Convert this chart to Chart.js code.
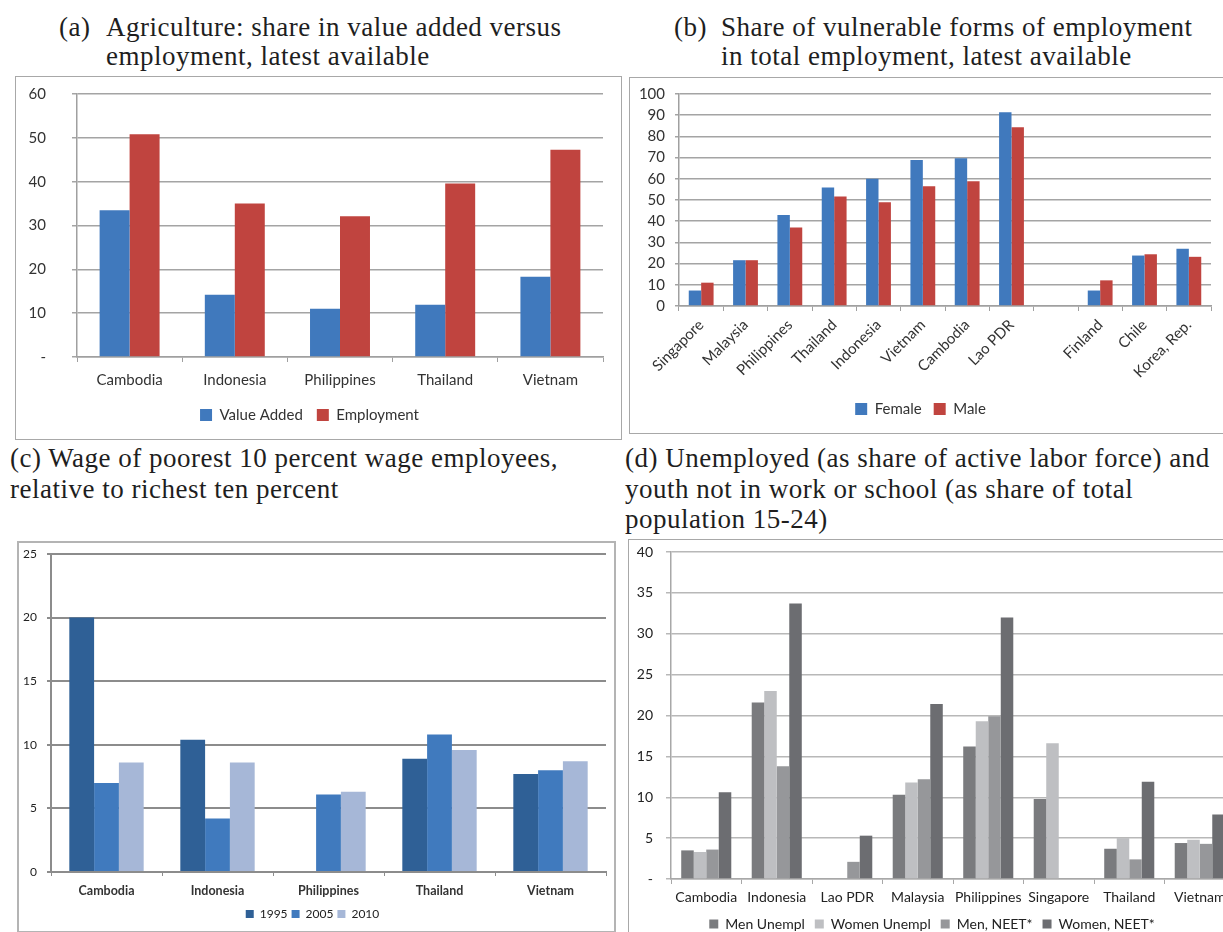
<!DOCTYPE html>
<html><head><meta charset="utf-8">
<script src="https://cdn.jsdelivr.net/npm/chart.js@4.4.0/dist/chart.umd.min.js"></script>
<style>
html,body{margin:0;padding:0;background:#fff;overflow:hidden;width:1223px;height:932px;position:relative;}
.t{position:absolute;font-family:"Liberation Serif",serif;font-size:27px;letter-spacing:0.5px;line-height:29.4px;color:#1e1e1e;white-space:pre;}
.box{position:absolute;border:1px solid #a8a8a8;box-sizing:border-box;background:#fff;}
canvas{position:absolute;}
</style></head><body>
<div class="t" style="left:59px;top:13px;">(a)</div>
<div class="t" style="left:106px;top:13px;">Agriculture: share in value added versus
employment, latest available</div>
<div class="t" style="left:674px;top:13px;">(b)</div>
<div class="t" style="left:721px;top:13px;">Share of vulnerable forms of employment
in total employment, latest available</div>
<div class="t" style="left:10px;top:443px;line-height:30.5px;">(c) Wage of poorest 10 percent wage employees,
relative to richest ten percent</div>
<div class="t" style="left:625px;top:443px;line-height:30.5px;">(d) Unemployed (as share of active labor force) and
youth not in work or school (as share of total
population 15-24)</div>

<div class="box" style="left:15px;top:76px;width:607px;height:364px;"></div>
<div class="box" style="left:629px;top:77px;width:596px;height:357px;"></div>
<div class="box" style="left:17px;top:541px;width:599px;height:392px;border:2px solid #b4b4b4;"></div>
<div class="box" style="left:628px;top:539px;width:700px;height:410px;"></div>

<canvas id="ca" width="605" height="362" style="left:16px;top:77px;"></canvas>
<canvas id="cb" width="592" height="355" style="left:630px;top:78px;"></canvas>
<canvas id="cc" width="596" height="387" style="left:19px;top:543px;"></canvas>
<canvas id="cd" width="618" height="401" style="left:629px;top:540px;"></canvas>

<script>
// ---------- Panel (a) ----------
const catA = ['Cambodia','Indonesia','Philippines','Thailand','Vietnam'];
const valueAdded = [33.5, 14.2, 11.0, 11.9, 18.3];
const employment = [50.8, 35.0, 32.1, 39.6, 47.3];

// ---------- Panel (b) ----------
const catB = ['Singapore','Malaysia','Philippines','Thailand','Indonesia','Vietnam','Cambodia','Lao PDR','','Finland','Chile','Korea, Rep.'];
const female = [7.3, 21.6, 42.9, 55.9, 60.0, 68.9, 69.7, 91.4, null, 7.3, 23.8, 27.0];
const male   = [11.0, 21.6, 37.0, 51.7, 48.9, 56.5, 58.9, 84.3, null, 12.1, 24.4, 23.2];

// ---------- Panel (c) ----------
const catC = ['Cambodia','Indonesia','Philippines','Thailand','Vietnam'];
const y1995 = [20.0, 10.4, null, 8.9, 7.7];
const y2005 = [7.0, 4.2, 6.1, 10.8, 8.0];
const y2010 = [8.6, 8.6, 6.3, 9.6, 8.7];

// ---------- Panel (d) ----------
const catD = ['Cambodia','Indonesia','Lao PDR','Malaysia','Philippines','Singapore','Thailand','Vietnam'];
const menUnempl   = [3.5, 21.6, null, 10.3, 16.2, 9.8, 3.7, 4.4];
const womenUnempl = [3.3, 23.0, null, 11.8, 19.3, 16.6, 5.0, 4.8];
const menNEET     = [3.6, 13.8, 2.1, 12.2, 19.9, null, 2.4, 4.3];
const womenNEET   = [10.6, 33.7, 5.3, 21.4, 32.0, null, 11.9, 7.9];

Chart.defaults.font.family = 'Lato, "Open Sans", sans-serif';
Chart.defaults.color = '#333';
const BLUE = '#4079BD', RED = '#C0443F';

function base(o){
  o.options.responsive = false;
  o.options.animation = false;
  o.options.devicePixelRatio = 1;
  o.options.plugins = o.options.plugins || {};
  o.options.plugins.tooltip = {enabled:false};
  return o;
}
function fixY(w){ return s => { s.width = w; s.paddingTop = 0; s.paddingBottom = 0; }; }

// Panel a
new Chart(document.getElementById('ca'), base({
  type:'bar',
  data:{labels:catA, datasets:[
    {label:'Value Added', data:valueAdded, backgroundColor:BLUE, barPercentage:1, categoryPercentage:0.57},
    {label:'Employment', data:employment, backgroundColor:RED, barPercentage:1, categoryPercentage:0.57}
  ]},
  options:{
    layout:{padding:{left:0,top:17,right:18,bottom:6.5}},
    plugins:{legend:{position:'bottom', labels:{boxWidth:12, boxHeight:12, padding:14, font:{size:15}, color:'#333'}}},
    scales:{
      x:{grid:{drawOnChartArea:false, drawTicks:true, tickLength:5, color:'#a0a0a0', offset:true},
         border:{color:'#a0a0a0', width:1.5},
         ticks:{font:{size:15}, color:'#333', padding:9, maxRotation:0},
         afterFit:s=>{s.height=36.5;}},
      y:{min:0, max:60,
         ticks:{stepSize:10, autoSkip:false, padding:26, font:{size:15}, color:'#333', callback:v=>v===0?'-':v},
         grid:{color:'#a4a4a4', lineWidth:1.5, tickLength:5},
         border:{color:'#a0a0a0', width:1.5},
         afterFit:fixY(61)}
    }
  }
}));

// Panel b
new Chart(document.getElementById('cb'), base({
  type:'bar',
  data:{labels:catB, datasets:[
    {label:'Female', data:female, backgroundColor:BLUE, barPercentage:1, categoryPercentage:0.56},
    {label:'Male', data:male, backgroundColor:RED, barPercentage:1, categoryPercentage:0.56}
  ]},
  options:{
    layout:{padding:{left:0,top:16,right:11,bottom:6.5}},
    plugins:{legend:{position:'bottom', labels:{boxWidth:12, boxHeight:12, padding:12, font:{size:15}, color:'#333'}}},
    scales:{
      x:{grid:{drawOnChartArea:false, drawTicks:true, tickLength:5, color:'#a0a0a0', offset:true},
         border:{color:'#a0a0a0', width:1.5},
         ticks:{font:{size:15}, color:'#333', padding:5, maxRotation:45, minRotation:45, autoSkip:false},
         afterFit:s=>{s.height=83.5;}},
      y:{min:0, max:100, ticks:{stepSize:10, autoSkip:false, padding:10, font:{size:15}, color:'#333'},
         grid:{color:'#a4a4a4', lineWidth:1.5, tickLength:4},
         border:{color:'#a0a0a0', width:1.5},
         afterFit:fixY(49)}
    }
  }
}));

// Panel c
new Chart(document.getElementById('cc'), base({
  type:'bar',
  data:{labels:catC, datasets:[
    {label:'1995', data:y1995, backgroundColor:'#2F6096', barPercentage:1, categoryPercentage:0.67},
    {label:'2005', data:y2005, backgroundColor:'#407ABE', barPercentage:1, categoryPercentage:0.67},
    {label:'2010', data:y2010, backgroundColor:'#A6B7D7', barPercentage:1, categoryPercentage:0.67}
  ]},
  options:{
    layout:{padding:{left:0,top:11,right:9,bottom:0}},
    plugins:{legend:{position:'bottom', labels:{boxWidth:8, boxHeight:8, padding:4, font:{size:12}, color:'#222'}}},
    scales:{
      x:{grid:{drawOnChartArea:false, drawTicks:true, tickLength:4, color:'#8c8c8c', offset:true},
         border:{color:'#8c8c8c', width:2},
         ticks:{font:{size:12.5, weight:'bold'}, color:'#333', padding:7, maxRotation:0},
         afterFit:s=>{s.height=32;}},
      y:{min:0, max:25, ticks:{stepSize:5, autoSkip:false, padding:10, font:{size:12}, color:'#222'},
         grid:{color:'#8c8c8c', lineWidth:2, tickLength:4},
         border:{color:'#8c8c8c', width:2},
         afterFit:fixY(32)}
    }
  }
}));

// Panel d
new Chart(document.getElementById('cd'), base({
  type:'bar',
  data:{labels:catD, datasets:[
    {label:'Men Unempl', data:menUnempl, backgroundColor:'#7A7B7E', barPercentage:1, categoryPercentage:0.71},
    {label:'Women Unempl', data:womenUnempl, backgroundColor:'#BEBFC2', barPercentage:1, categoryPercentage:0.71},
    {label:'Men, NEET*', data:menNEET, backgroundColor:'#96979A', barPercentage:1, categoryPercentage:0.71},
    {label:'Women, NEET*', data:womenNEET, backgroundColor:'#6C6D71', barPercentage:1, categoryPercentage:0.71}
  ]},
  options:{
    layout:{padding:{left:0,top:12,right:12,bottom:0}},
    plugins:{legend:{position:'bottom', labels:{boxWidth:9, boxHeight:9, padding:10, font:{size:14}, color:'#222'}}},
    scales:{
      x:{grid:{drawOnChartArea:false, drawTicks:true, tickLength:5, color:'#a8a8a8', offset:true},
         border:{color:'#a8a8a8', width:1.5},
         ticks:{font:{size:14}, color:'#222', padding:5, maxRotation:0, autoSkip:false},
         afterFit:s=>{s.height=28;}},
      y:{min:0, max:40, ticks:{stepSize:5, autoSkip:false, padding:13, font:{size:14}, color:'#222', callback:v=>v===0?'-':v},
         grid:{color:'#b8b8b8', lineWidth:1.5, tickLength:5},
         border:{color:'#a8a8a8', width:1.5},
         afterFit:fixY(42)}
    }
  }
}));
</script>
</body></html>
